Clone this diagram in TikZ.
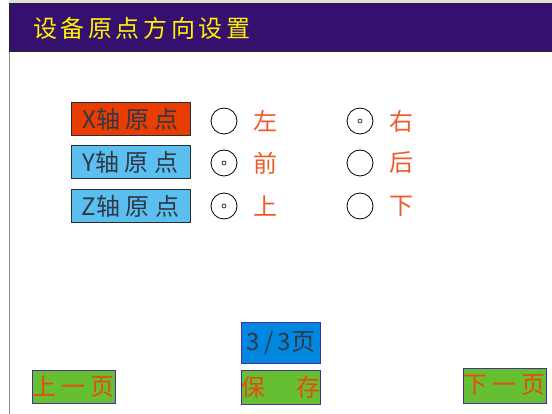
\documentclass[tikz,border=0pt]{standalone}
\usepackage{xcolor}
\usepackage{fontspec}
\setmainfont{Noto Sans CJK SC}
\newfontfamily\spaced[LetterSpace=15]{Noto Sans CJK SC}
\newfontfamily\spacedbtn[LetterSpace=20]{Noto Sans CJK SC}
\usepackage{tikz}
\usetikzlibrary{positioning}
\definecolor{headbg}{HTML}{35106E}
\definecolor{titleyel}{HTML}{FFF200}
\definecolor{axisred}{HTML}{E83C00}
\definecolor{axisblue}{HTML}{5BC0F0}
\definecolor{optred}{HTML}{F05A28}
\definecolor{pageblue}{HTML}{0088E0}
\definecolor{btngreen}{HTML}{66BF33}
\definecolor{btnline}{HTML}{4A2F9A}
\definecolor{btntext}{HTML}{E84A10}
\definecolor{darktext}{HTML}{303848}
\tikzstyle{axisbox}=[draw=darktext!80!black, line width=1pt, minimum width=119pt, minimum height=33pt, inner sep=0, font=\fontsize{24}{24}\selectfont, text=darktext]
\tikzstyle{radio}=[shape=circle, draw, line width=0.8pt, minimum size=26pt, inner sep=0]
\tikzstyle{dot}=[shape=circle, draw, line width=0.6pt, minimum size=4pt, inner sep=0]
\tikzstyle{option}=[text=optred, font=\fontsize{24}{24}\selectfont, inner sep=0, label distance=16pt]
\tikzstyle{btn}=[draw=btnline, line width=1pt, fill=btngreen, text=btntext, minimum width=83pt, minimum height=33pt, inner sep=0, font=\fontsize{24}{24}\selectfont]

\begin{document}
\begin{tikzpicture}[x=1pt, y=-1pt]
\useasboundingbox (0,0) rectangle (552,414);
% frame and title bar
\fill[black!12] (9,0) rectangle (552,3);
\draw[black!45, line width=1.5pt] (9.5,52) -- (9.5,414);
\draw[fill=headbg, draw=black!85, line width=1.5pt] (9.5,3.5) rectangle (553,51.5);
\draw (33,28) node[anchor=west, inner sep=0, text=titleyel, font=\fontsize{24}{24}\selectfont\spaced](title){设备原点方向设置};
% axis rows
\draw (130.5,119.5) node[axisbox, fill=axisred](xaxis){X轴 原 点};
\draw (130.5,162.5) node[axisbox, fill=axisblue](yaxis){Y轴 原 点};
\draw (130.5,206.5) node[axisbox, fill=axisblue](zaxis){Z轴 原 点};
\draw (224,121) node[radio, label={[option]right:左}](xleft){};
\draw (360,121) node[radio, label={[option]right:右}](xright){};
\draw (224,163) node[radio, label={[option]right:前}](yfront){};
\draw (360,163) node[radio, label={[option]right:后}](yback){};
\draw (224,206) node[radio, label={[option]right:上}](zup){};
\draw (360,206) node[radio, label={[option]right:下}](zdown){};
\node[dot] at (xright) {};
\node[dot] at (yfront) {};
\node[dot] at (zup) {};
% page and buttons
\draw (281,343) node[btn, fill=pageblue, text=darktext, minimum width=79pt, minimum height=40pt](page){3\,/\,3页};
\draw (73.5,386.5) node[btn](prev){\spacedbtn 上一页};
\draw (281,387) node[btn, minimum width=79pt, minimum height=34pt](save){保\hspace{31pt}存};
\draw (504.5,385.5) node[btn, minimum height=35pt](next){\spacedbtn 下一页};
\end{tikzpicture}
\end{document}
